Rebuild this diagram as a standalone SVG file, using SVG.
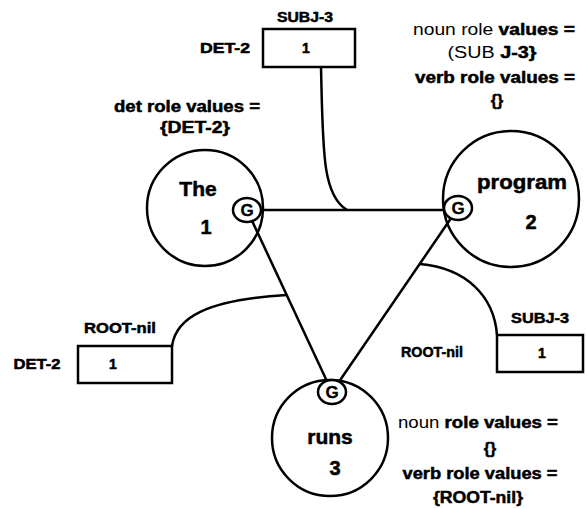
<svg xmlns="http://www.w3.org/2000/svg" width="587" height="509" viewBox="0 0 587 509">
<style>
text { font-family: "Liberation Sans", Arial, sans-serif; font-weight: bold; fill: #000; stroke: #000; stroke-width: 0.5; text-anchor: middle; }
.lbl { font-size: 14px; }
.info { font-size: 16px; }
.reg { font-weight: normal; stroke: none; }
.word { font-size: 21px; }
.num { font-size: 20px; }
.g { font-size: 17px; stroke-width: 0.3; }
.node { fill: none; stroke: #000; stroke-width: 2.5; }
.gc { fill: #fff; stroke: #000; stroke-width: 2.5; }
.edge { fill: none; stroke: #000; stroke-width: 2.5; }
.box { fill: #fff; stroke: #000; stroke-width: 2.5; }
</style>

<!-- graph edges between the G markers, plus the slot leaders -->
<g id="connectors">
  <line class="edge" x1="247" y1="210" x2="458" y2="210"/>
  <line class="edge" x1="247" y1="210" x2="332" y2="392"/>
  <line class="edge" x1="458" y1="208" x2="332" y2="392"/>
  <path class="edge" d="M321,67 C323,150 322,195 347,210"/>
  <path class="edge" d="M172,346 C176,318 205,300 287,295"/>
  <path class="edge" d="M420,264 C466,268 494,296 497,335"/>
</g>

<g id="node-the">
  <circle class="node" cx="205" cy="208" r="58"/>
  <text class="word" x="198" y="196">The</text>
  <text class="num" x="206" y="234">1</text>
  <ellipse class="gc" cx="247" cy="210" rx="14" ry="12"/>
  <text class="g" x="247" y="216">G</text>
</g>

<g id="node-program">
  <circle class="node" cx="511" cy="199" r="68"/>
  <text class="word" x="522" y="189" textLength="90" lengthAdjust="spacingAndGlyphs">program</text>
  <text class="num" x="531" y="229">2</text>
  <ellipse class="gc" cx="458" cy="208" rx="14" ry="12"/>
  <text class="g" x="458" y="214">G</text>
</g>

<g id="node-runs">
  <circle class="node" cx="330" cy="438" r="58"/>
  <text class="word" x="330" y="444">runs</text>
  <text class="num" x="335" y="475">3</text>
  <ellipse class="gc" cx="332" cy="392" rx="14" ry="12"/>
  <text class="g" x="332" y="398">G</text>
</g>

<g id="slot-top">
  <text class="lbl" x="305" y="22" textLength="56" lengthAdjust="spacingAndGlyphs">SUBJ-3</text>
  <rect class="box" x="263" y="29" width="92" height="38"/>
  <text class="lbl" x="306" y="53">1</text>
  <text class="lbl" x="225" y="53" textLength="50" lengthAdjust="spacingAndGlyphs">DET-2</text>
</g>

<g id="slot-left">
  <text class="lbl" x="120" y="333" textLength="72" lengthAdjust="spacingAndGlyphs">ROOT-nil</text>
  <rect class="box" x="78" y="346" width="94" height="37"/>
  <text class="lbl" x="113" y="369">1</text>
  <text class="lbl" x="37" y="369" textLength="47" lengthAdjust="spacingAndGlyphs">DET-2</text>
</g>

<g id="slot-right">
  <text class="lbl" x="540" y="323" textLength="58" lengthAdjust="spacingAndGlyphs">SUBJ-3</text>
  <rect class="box" x="497" y="335" width="86" height="37"/>
  <text class="lbl" x="542" y="358">1</text>
  <text class="lbl" x="432" y="357" textLength="62" lengthAdjust="spacingAndGlyphs">ROOT-nil</text>
</g>

<g id="values-the">
  <text class="info" x="187" y="112" textLength="146" lengthAdjust="spacingAndGlyphs">det role values =</text>
  <text class="info" x="195" y="133" textLength="70" lengthAdjust="spacingAndGlyphs">{DET-2}</text>
</g>

<g id="values-program">
  <text class="info" x="494" y="35" textLength="162" lengthAdjust="spacingAndGlyphs"><tspan class="reg">noun role</tspan> values =</text>
  <text class="info" x="492" y="58" textLength="89" lengthAdjust="spacingAndGlyphs"><tspan class="reg">(SUB</tspan> J-3}</text>
  <text class="info" x="495" y="83" textLength="160" lengthAdjust="spacingAndGlyphs">verb role values =</text>
  <text class="info" x="497" y="106">{}</text>
</g>

<g id="values-runs">
  <text class="info" x="478" y="428" textLength="160" lengthAdjust="spacingAndGlyphs"><tspan class="reg">noun</tspan> role values =</text>
  <text class="info" x="490" y="454">{}</text>
  <text class="info" x="480" y="479" textLength="155" lengthAdjust="spacingAndGlyphs">verb role values =</text>
  <text class="info" x="478" y="503" textLength="90" lengthAdjust="spacingAndGlyphs">{ROOT-nil}</text>
</g>
</svg>
